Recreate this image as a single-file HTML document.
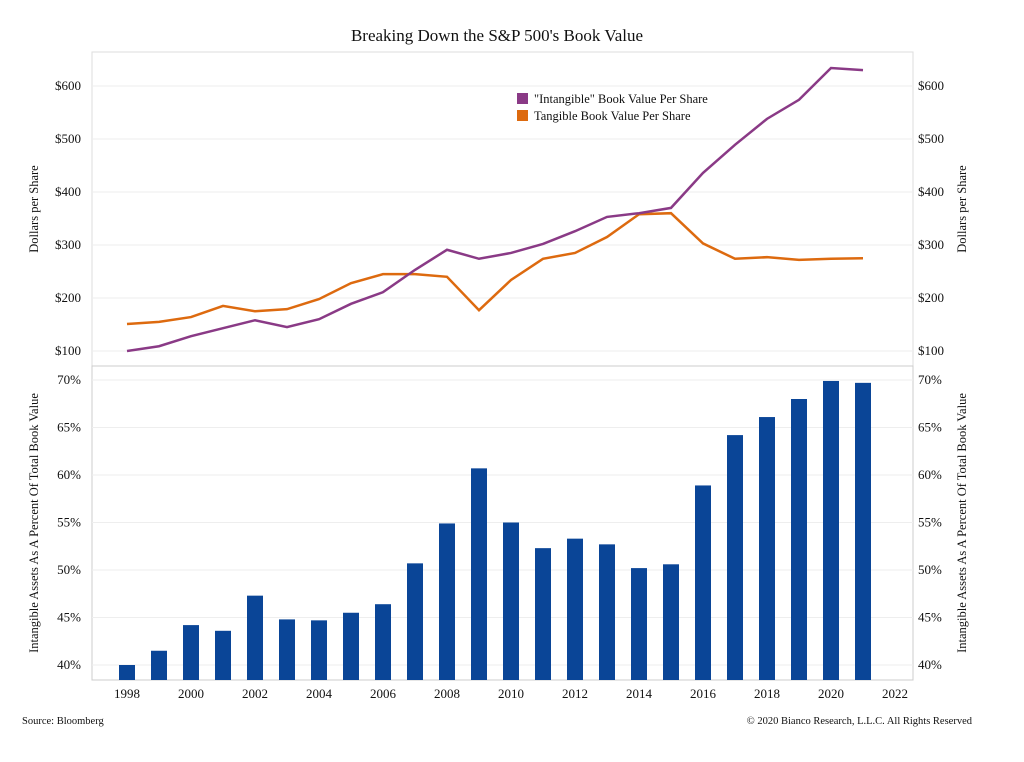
<!DOCTYPE html>
<html><head><meta charset="utf-8"><style>
body{margin:0;background:#fff;width:1024px;height:757px;overflow:hidden;font-family:"Liberation Serif",serif;}
svg text{font-family:"Liberation Serif",serif;fill:#111;}
</style></head><body>
<svg id="chart" width="1024" height="757">
<text x="497" y="41" text-anchor="middle" font-size="17">Breaking Down the S&amp;P 500's Book Value</text>
<g id="g"></g>
<text x="22" y="724" font-size="10.5">Source: Bloomberg</text>
<text x="972" y="724" font-size="10.5" text-anchor="end">© 2020 Bianco Research, L.L.C. All Rights Reserved</text>
</svg>
<script>
const years=[1998,1999,2000,2001,2002,2003,2004,2005,2006,2007,2008,2009,2010,2011,2012,2013,2014,2015,2016,2017,2018,2019,2020,2021];
const intangible=[100,109,128,143,158,145,160,189,211,253,291,274,285,302,326,353,360,370,436,489,538,574,634,630];
const tangible=[151,155,164,185,175,179,198,228,245,245,240,177,234,274,285,315,358,360,303,274,277,272,274,275];
const pct=[40.0,41.5,44.2,43.6,47.3,44.8,44.7,45.5,46.4,50.7,54.9,60.7,55.0,52.3,53.3,52.7,50.2,50.6,58.9,64.2,66.1,68.0,69.9,69.7];
const topTicks=[100,200,300,400,500,600];
const botTicks=[40,45,50,55,60,65,70];
const xTicks=[1998,2000,2002,2004,2006,2008,2010,2012,2014,2016,2018,2020,2022];
const NS="http://www.w3.org/2000/svg",g=document.getElementById('g');
function el(t,a,txt){const e=document.createElementNS(NS,t);for(const k in a)e.setAttribute(k,a[k]);if(txt!=null)e.textContent=txt;g.appendChild(e);return e;}
const X=y=>127+(y-1998)*32;
const Yt=v=>351-(v-100)*0.53;
const Yb=v=>665-(v-40)*9.5;
const L=92,R=913;
let f=el('rect',{x:L,y:52,width:R-L,height:314,fill:'none',stroke:'#ddd'});

f=el('rect',{x:L,y:366,width:R-L,height:314,fill:'none',stroke:'#ccc'});

topTicks.forEach(v=>{
 let l=el('line',{x1:L,x2:R,y1:Yt(v),y2:Yt(v),stroke:'#eee'});
 let t=el('text',{x:L-11,y:Yt(v)+4,'text-anchor':'end','font-size':13},'$'+v);
 t=el('text',{x:R+5,y:Yt(v)+4,'font-size':13},'$'+v);
});
botTicks.forEach(v=>{
 let l=el('line',{x1:L,x2:R,y1:Yb(v),y2:Yb(v),stroke:'#eee'});
 let t=el('text',{x:L-11,y:Yb(v)+4,'text-anchor':'end','font-size':13},v+'%');
 t=el('text',{x:R+5,y:Yb(v)+4,'font-size':13},v+'%');
});
xTicks.forEach(y=>{
 let t=el('text',{x:X(y),y:698,'text-anchor':'middle','font-size':13},y);
});
years.forEach((y,i)=>{
 let b=el('rect',{x:X(y)-8,y:Yb(pct[i]),width:16,height:680-Yb(pct[i]),fill:'#0a4597'});
 
});
function line(d,c,n){let p=el('polyline',{points:years.map((y,i)=>X(y)+','+Yt(d[i])).join(' '),fill:'none',stroke:c,'stroke-width':2.5});}
line(tangible,'#dd6a0f','tangible-line');
line(intangible,'#8a3a86','intangible-line');
let r=el('rect',{x:517,y:93,width:11,height:11,fill:'#8a3a86'});
let t=el('text',{x:534,y:103,'font-size':12.5},'"Intangible" Book Value Per Share');
r=el('rect',{x:517,y:110,width:11,height:11,fill:'#dd6a0f'});
t=el('text',{x:534,y:120,'font-size':12.5},'Tangible Book Value Per Share');
t=el('text',{transform:'translate(38,209) rotate(-90)','text-anchor':'middle','font-size':12.5},'Dollars per Share');
t=el('text',{transform:'translate(966,209) rotate(-90)','text-anchor':'middle','font-size':12.5},'Dollars per Share');
t=el('text',{transform:'translate(38,523) rotate(-90)','text-anchor':'middle','font-size':12.5},'Intangible Assets As A Percent Of Total Book Value');
t=el('text',{transform:'translate(966,523) rotate(-90)','text-anchor':'middle','font-size':12.5},'Intangible Assets As A Percent Of Total Book Value');
</script>
</body></html>
